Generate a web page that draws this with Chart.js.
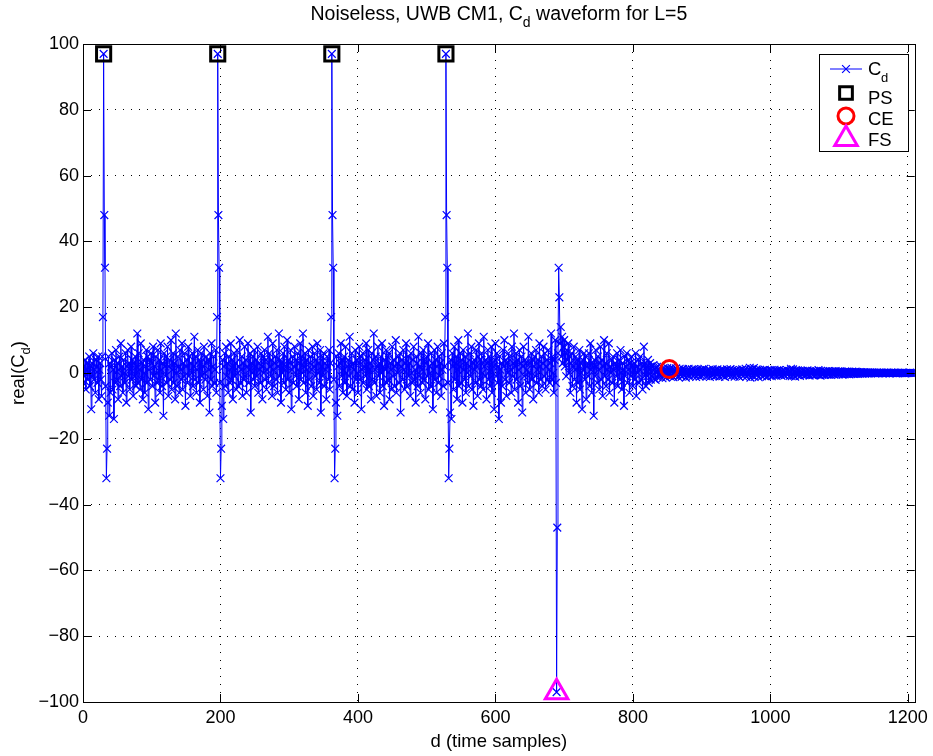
<!DOCTYPE html>
<html>
<head>
<meta charset="utf-8">
<script src="https://cdn.jsdelivr.net/npm/chart.js@4.4.1/dist/chart.umd.min.js"></script>
<style>
  html, body { margin: 0; padding: 0; background: #fff; }
  canvas { display: block; }
</style>
</head>
<body>
<canvas id="cdChart" width="933" height="756"></canvas>
<script>
// tick labels
const xTicks = [0, 200, 400, 600, 800, 1000, 1200];
const yTicks = [-100, -80, -60, -40, -20, 0, 20, 40, 60, 80, 100];

// detected points
const psX = [30, 196, 362, 528];
const psY = [97, 97, 97, 97];
const ceX = [853];
const ceY = [1.2];
const fsX = [689];
const fsY = [-97];

// real(Cd), d = 0 .. 1209
const cdSeg1 = [
  -3,2,-1,4,-5,1,3,-2,0,5, -4,2,-11,3,-1,6,-2,1,-6,4,
  2,-3,5,-8,1,3,-2,-7,5,17, 97,48,32,-4,-32,-23,-9,5,-13,3,
  -6,2,6,-5,1,-14,4,-3,7,-2, 3,-8,1,5,-4,9,-1,2,-6,4,
  0,-3,6,-9,2,7,-1,3,-5,1, 8,-2,4,-7,3,-1,5,-4,2,12,
  -3,6,1,-5,9,-2,3,-8,4,0, -6,2,7,-3,5,-11,1,4,-2,6,
  3,-4,8,-1,2,-9,5,0,-3,7, -2,4,-6,9,1,-4,3,-13,6,2,
  -1,5,-3,8,-7,2,4,-2,10,-5, 1,6,-3,3,-8,12,0,-4,5,2,
  -6,7,1,-2,9,-5,3,-1,6,-10, 2,4,-3,8,-1,5,-7,3,0,6,
  -4,2,11,-2,5,-6,1,7,-3,4, -9,3,6,-1,2,-5,8,0,-2,5,
  3,-7,4,1,-12,6,-2,9,-4,2, 5,-3,1,7,-6,17,97,48,32,-3,
  -32,-23,-10,4,-14,2,6,-4,8,-1, 3,-6,5,1,-3,9,-2,4,-8,2,
  6,-1,3,-5,7,0,-4,2,10,-3, 1,5,-7,3,-2,8,-1,4,-6,2,
  9,-3,1,6,-12,3,0,5,-2,7, -4,2,4,-1,8,-6,3,1,-3,6,
  2,-8,5,0,7,-2,4,-5,1,11, -3,6,2,-1,4,-7,9,1,-4,3,
  5,-2,7,-6,2,12,-1,4,-9,3, 0,6,-3,8,1,-5,2,10,-2,4
];
const cdSeg2 = [
  -6,3,7,-11,1,5,-3,2,8,-1, 4,-4,6,1,-8,3,9,-2,5,0,
  12,-3,2,6,-6,4,1,-10,7,-2, 3,5,-4,1,8,-7,2,6,-1,4,
  -5,9,0,3,-3,7,-12,2,5,-1, 6,-4,3,1,-8,5,2,-2,7,-5,
  3,17,97,48,32,-2,-32,-23,-9,5, -13,2,6,-4,3,9,-1,4,-6,1,
  5,-3,8,0,-7,2,4,-1,11,-4, 2,6,-5,3,1,-9,7,-2,4,0,
  -6,3,8,-2,5,-11,1,6,-3,2, 4,-1,9,-5,2,7,-4,1,3,-8,
  6,-2,4,12,-3,1,5,-7,2,8, -1,3,-6,5,0,9,-4,2,-10,4,
  1,7,-3,5,-2,6,-8,3,1,-5, 8,-1,4,-4,2,10,-6,3,0,5,
  -3,6,-12,2,4,-2,7,1,-5,3, 9,-4,2,5,-1,3,-7,6,0,-3,
  4,8,-2,1,-9,5,3,-4,11,-1, 2,-6,6,1,-3,7,-2,4,-8,3,
  5,-1,9,-5,2,0,-4,6,3,-11, 1,7,-2,4,-6,2,8,-3,5,-1,
  3,-7,6,1,-4,9,2,17,97,48, 32,-3,-32,-23,-12,4,-14,6,2,-5,
  8,-2,3,5,-8,1,10,-4,2,6, -3,4,-9,7,1,-2,5,-6,3,0,
  12,-4,2,6,-1,8,-5,3,-10,4, 1,-3,7,2,-7,5,9,-2,4,-4,
  6,0,-5,11,2,-1,4,-8,3,7, -2,5,-4,1,8,-6,3,2,-11,4
];
const cdSeg3 = [
  9,-1,6,-3,2,-14,5,1,-9,3, -4,7,2,10,-2,4,-7,3,0,6,
  -3,5,1,-6,8,-1,3,12,-5,2, 6,-2,4,-9,1,7,-4,3,5,-12,
  2,8,-1,4,-6,3,1,-3,11,0, -5,3,6,-2,4,-8,2,5,-1,7,
  -3,1,4,-6,9,2,-2,5,-4,3, 8,-1,6,-5,2,4,-2,7,1,-3,
  3,12,-2,5,0,-6,4,10,-3,-97, -47,6,32,23,9,14,5,11,3,8,
  10,2,6,-1,7,4,9,0,5,-6, 3,6,-4,2,8,-2,1,5,-9,4,
  -3,2,7,-5,3,0,-11,4,1,6, -2,5,-8,2,3,-1,6,-4,9,1,
  -6,3,2,-13,4,-1,7,2,-3,5, 1,-5,3,8,-2,4,-7,2,10,-1,
  3,-4,6,1,-2,9,-6,2,0,4, -3,5,1,-9,3,2,-1,6,-4,2,
  4,-2,7,0,-5,3,1,-10,5,-1, 2,6,-3,1,4,-6,3,-1,5,2,
  -4,1,3,-2,6,-7,2,0,4,-3, 1,5,-2,3,-5,2,8,-1,3,-4,
  2,-1,4,-3,1,3,-2,2,-1,1
];
const cdTail = [
  2.4,-1.8,1.2,-2.1,0.6,1.9,-1.3,0.8,-0.5,1.6, -1.1,2.0,0.3,-1.6,1.4,-0.7,1.1,0.2,-1.4,0.9,
  1.5,-0.6,0.4,1.2,-1.0,0.7,1.6,-0.8,0.5,-1.3, 1.1,0.2,-0.9,1.4,-0.4,0.8,-1.2,0.6,1.3,-0.5,
  0.9,-1.1,0.4,1.2,-0.7,0.3,1.0,-1.4,0.6,0.1, -0.8,1.3,0.5,-1.0,0.7,-0.3,1.1,-0.9,0.4,1.2,
  -0.6,0.8,-1.2,0.3,1.0,-0.5,0.6,-1.1,0.9,0.2, -0.9,1.1,0.4,-0.7,1.3,-0.2,0.5,-1.0,0.8,0.3,
  -0.6,1.0,-1.2,0.7,0.2,-0.8,1.2,-0.4,0.6,-1.0, 0.9,0.1,-0.7,1.1,-0.3,0.5,-1.1,0.8,0.3,-0.6,
  1.0,-0.9,0.4,0.7,-1.2,0.6,-0.2,1.1,-0.7,0.3, 0.8,-0.5,1.2,-1.0,0.2,0.9,-0.6,0.4,-1.1,0.7,
  -0.3,1.0,0.5,-0.8,0.6,-1.2,0.9,0.1,-0.5,1.1, -0.9,0.4,0.8,-0.4,1.3,-1.1,0.2,0.7,-0.7,1.0,
  1.6,-1.4,0.6,1.2,-0.9,0.3,1.5,-1.2,0.5,-0.4, 1.1,-0.7,0.9,-1.3,0.4,1.0,-0.6,0.2,-1.0,0.8,
  0.3,-0.8,1.0,-0.2,0.6,-1.1,0.7,0.1,-0.6,0.9, -0.4,0.8,-1.0,0.5,0.2,-0.7,1.0,-0.3,0.6,-0.9,
  0.7,0.1,-0.6,0.9,-0.4,0.3,-0.8,0.6,0.2,-0.5, 0.8,-0.7,0.4,-0.2,0.9,-0.6,0.3,0.6,-0.9,0.5,
  1.3,-1.0,0.7,1.1,-0.8,0.4,-1.1,0.9,0.2,-0.6, 0.8,-0.4,0.5,-0.9,0.6,0.1,-0.5,0.7,-0.3,0.4,
  -0.7,0.6,0.2,-0.5,0.8,-0.3,0.4,-0.8,0.5,0.1, -0.4,0.7,-0.6,0.3,0.5,-0.7,0.2,0.6,-0.4,0.3,
  0.9,-0.6,0.4,-0.8,0.7,0.2,-0.5,0.6,-0.3,0.4, -0.6,0.5,0.1,-0.4,0.6,-0.5,0.3,0.4,-0.6,0.2,
  0.5,-0.3,0.4,-0.5,0.2,0.6,-0.4,0.3,-0.2,0.5, -0.4,0.3,0.5,-0.3,0.4,-0.5,0.2,0.3,-0.4,0.4,
  0.2,-0.3,0.4,-0.2,0.3,-0.4,0.3,0.2,-0.3,0.4, -0.2,0.3,-0.3,0.2,0.4,-0.2,0.3,-0.3,0.2,0.1,
  -0.2,0.3,0.1,-0.2,0.2,-0.1,0.2,0.1,-0.2,0.1, 0.1,-0.1,0.2,0.0,-0.1,0.1,0.1,-0.1,0.1,0.0,
  0.1,0.0,-0.1,0.1,0.0,0.1,-0.1,0.0,0.1,0.0, 0.0,0.1,0.0,-0.1,0.0,0.1,0.0,0.0,-0.1,0.1,
  0.0,0.0,0.1,0.0,-0.1,0.0,0.1,0.0,0.0,0.0, 0.1,0.0,0.0,-0.1,0.0,0.0,0.1,0.0,0.0,0.0,
  0.0,0.0,0.1,0.0,0.0,0.0,-0.1,0.0,0.0,0.0, 0.0,0.0,0.0,0.1,0.0,0.0,0.0,0.0,0.0,0.0
];
const cdValues = cdSeg1.concat(cdSeg2, cdSeg3, cdTail);

const FONT = '"Liberation Sans", Arial, Helvetica, sans-serif';
const BLUE = '#0000ff';

// text with subscript parts: [text, isSub]
function drawParts(ctx, parts, x, y, size) {
  const subSize = Math.round(size * 0.72);
  let total = 0;
  parts.forEach(p => {
    ctx.font = (p[1] ? subSize : size) + 'px ' + FONT;
    total += ctx.measureText(p[0]).width;
  });
  let cx = x - total / 2;
  ctx.textAlign = 'left';
  ctx.textBaseline = 'alphabetic';
  parts.forEach(p => {
    ctx.font = (p[1] ? subSize : size) + 'px ' + FONT;
    ctx.fillText(p[0], cx, p[1] ? y + size * 0.35 : y);
    cx += ctx.measureText(p[0]).width;
  });
}

const framePlugin = {
  id: 'frame',
  afterDraw(chart) {
    const {ctx, chartArea: a, scales: {x, y}} = chart;
    ctx.save();
    ctx.strokeStyle = '#000';
    ctx.lineWidth = 1;
    ctx.beginPath();
    const tl = 8;
    x.ticks.forEach(t => {
      const px = Math.round(x.getPixelForValue(t.value)) + 0.5;
      ctx.moveTo(px, a.bottom); ctx.lineTo(px, a.bottom - tl);
      ctx.moveTo(px, a.top); ctx.lineTo(px, a.top + tl);
    });
    y.ticks.forEach(t => {
      const py = Math.round(y.getPixelForValue(t.value)) + 0.5;
      ctx.moveTo(a.left, py); ctx.lineTo(a.left + tl, py);
      ctx.moveTo(a.right, py); ctx.lineTo(a.right - tl, py);
    });
    ctx.stroke();
    ctx.strokeRect(Math.round(a.left) + 0.5, Math.round(a.top) + 0.5,
      Math.round(a.right - a.left), Math.round(a.bottom - a.top));

    // titles
    ctx.fillStyle = '#000';
    const midX = (a.left + a.right) / 2;
    drawParts(ctx, [['Noiseless, UWB CM1, C', 0], ['d', 1], [' waveform for L=5', 0]], midX, 20, 19.5);
    drawParts(ctx, [['d (time samples)', 0]], midX, 747, 18.5);
    ctx.save();
    ctx.translate(24, (a.top + a.bottom) / 2);
    ctx.rotate(-Math.PI / 2);
    drawParts(ctx, [['real(C', 0], ['d', 1], [')', 0]], 0, 0, 18.5);
    ctx.restore();

    // legend
    const bx = 819, by = 54, bw = 89, bh = 97;
    ctx.fillStyle = '#fff';
    ctx.fillRect(bx, by, bw, bh);
    ctx.strokeStyle = '#000';
    ctx.lineWidth = 1;
    ctx.strokeRect(bx + 0.5, by + 0.5, bw, bh);
    const mx = 846, tx = 868;
    ctx.strokeStyle = BLUE;
    ctx.beginPath(); ctx.moveTo(830, 69); ctx.lineTo(862, 69); ctx.stroke();
    const items = [
      {style: 'crossRot', r: 5.5, bw: 1.2, color: BLUE, y: 69},
      {style: 'rect', r: 9, bw: 3, color: '#000', y: 93},
      {style: 'circle', r: 8, bw: 3, color: '#ff0000', y: 116},
      {style: 'triangle', r: 13, bw: 3, color: '#ff00ff', y: 139}
    ];
    items.forEach(it => {
      ctx.strokeStyle = it.color;
      ctx.lineWidth = it.bw;
      ctx.fillStyle = 'rgba(0,0,0,0)';
      Chart.helpers.drawPoint(ctx, {pointStyle: it.style, radius: it.r, borderWidth: it.bw, rotation: 0}, mx, it.y);
    });
    ctx.fillStyle = '#000';
    ctx.textAlign = 'left';
    ctx.font = '18.5px ' + FONT;
    ctx.fillText('C', tx, 75);
    ctx.font = '13px ' + FONT;
    ctx.fillText('d', tx + 13, 82);
    ctx.font = '18.5px ' + FONT;
    ctx.fillText('PS', tx, 104);
    ctx.fillText('CE', tx, 125);
    ctx.fillText('FS', tx, 146);
    ctx.restore();
  }
};

Chart.defaults.font.family = FONT;
Chart.defaults.font.size = 18;
Chart.defaults.color = '#000';

const gridOpts = {color: '#000', lineWidth: 1, drawTicks: false};
const borderOpts = {display: false, dash: [1, 7]};

new Chart(document.getElementById('cdChart'), {
  type: 'line',
  data: {
    datasets: [
      {
        label: 'PS', type: 'scatter', order: 0,
        data: psX.map((x, i) => ({x: x, y: psY[i]})),
        pointStyle: 'rect', pointRadius: 10, pointBorderWidth: 3,
        pointBorderColor: '#000', pointBackgroundColor: 'rgba(0,0,0,0)', showLine: false
      },
      {
        label: 'CE', type: 'scatter', order: 0,
        data: ceX.map((x, i) => ({x: x, y: ceY[i]})),
        pointStyle: 'circle', pointRadius: 8.5, pointBorderWidth: 3,
        pointBorderColor: '#ff0000', pointBackgroundColor: 'rgba(0,0,0,0)', showLine: false
      },
      {
        label: 'FS', type: 'scatter', order: 0,
        data: fsX.map((x, i) => ({x: x, y: fsY[i]})),
        pointStyle: 'triangle', pointRadius: 13, pointBorderWidth: 3,
        pointBorderColor: '#ff00ff', pointBackgroundColor: 'rgba(0,0,0,0)', showLine: false
      },
      {
        label: 'Cd', order: 1,
        data: cdValues.map((v, i) => ({x: i, y: v})),
        borderColor: BLUE, borderWidth: 1, tension: 0, fill: false,
        pointStyle: 'crossRot', pointRadius: 5.5, pointBorderWidth: 1.2,
        pointBorderColor: BLUE, pointBackgroundColor: BLUE
      }
    ]
  },
  options: {
    responsive: false,
    animation: false,
    events: [],
    layout: {padding: {left: 0, right: 15, top: 44, bottom: 0}},
    plugins: {legend: {display: false}, title: {display: false}, tooltip: {enabled: false}},
    scales: {
      x: {
        type: 'linear', min: 0, max: 1210,
        afterBuildTicks: s => { s.ticks = xTicks.map(v => ({value: v})); },
        afterFit: s => { s.height = 54; },
        ticks: {padding: 5, maxRotation: 0, autoSkip: false, callback: v => String(v)},
        grid: gridOpts, border: borderOpts
      },
      y: {
        type: 'linear', min: -100, max: 100,
        afterBuildTicks: s => { s.ticks = yTicks.map(v => ({value: v})); },
        afterFit: s => { s.width = 83; },
        ticks: {padding: 4, autoSkip: false, callback: v => String(v).replace('-', '\u2212')},
        grid: gridOpts, border: borderOpts
      }
    }
  },
  plugins: [framePlugin]
});
</script>
</body>
</html>
